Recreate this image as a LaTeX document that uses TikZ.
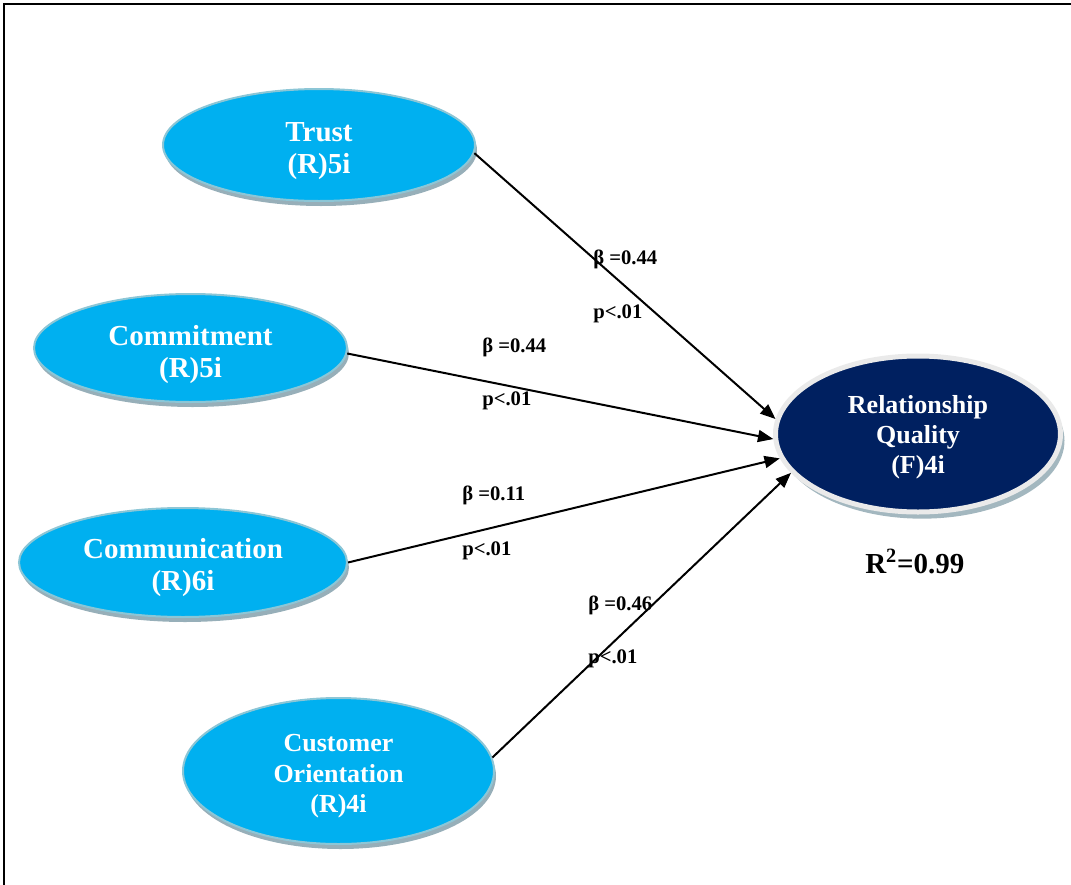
\documentclass[tikz,border=0pt]{standalone}
\usepackage{fontspec}
\setmainfont{Liberation Serif}
\usetikzlibrary{shapes.geometric,shadows,arrows.meta}

\definecolor{latentfill}{HTML}{00B0F0}
\definecolor{latentedge}{HTML}{8CC6D6}
\definecolor{latentshadow}{HTML}{97AFB9}
\definecolor{outcomefill}{HTML}{002060}
\definecolor{outcomering}{HTML}{EAEAEA}
\definecolor{outcomeshadow}{HTML}{A3B7BF}

% centred block of lines, drawn a little lower than its box
\newcommand{\sunkenlines}[2]{\raisebox{-#1}[\height][\depth]{\begin{tabular}{@{}c@{}}#2\end{tabular}}}

\begin{document}
\begin{tikzpicture}[x=0.75pt,y=-0.75pt,
  latent/.style={ellipse, fill=latentfill, draw=latentedge, line width=1.5pt,
    inner sep=0pt, text=white, align=center,
    font=\bfseries\fontsize{21.75}{24}\selectfont,
    drop shadow={shadow xshift=1.5pt, shadow yshift=-3.75pt, fill=latentshadow, opacity=1}},
  outcome/.style={ellipse, fill=outcomefill, draw=outcomering, line width=3.75pt,
    inner sep=0pt, text=white, align=center,
    font=\bfseries\fontsize{19.5}{22.5}\selectfont,
    drop shadow={shadow xshift=3pt, shadow yshift=-5pt, fill=outcomeshadow, opacity=1}},
  path/.style={line width=1.5pt, -{Triangle[length=11.5pt,width=9pt]}},
  coef/.style={font=\bfseries\fontsize{15.5}{18}\selectfont, inner sep=0pt, anchor=base west},
]
\useasboundingbox (0,0) rectangle (1071,885);

% outer frame (top and left edges)
\draw[line width=1.5pt] (4,885) -- (4,4) -- (1071,4);

% constructs
\node[latent, minimum width=234pt, minimum height=84pt] (trust) at (319,145)
  {\sunkenlines{4.5pt}{Trust\\(R)5i}};
\node[latent, minimum width=234.75pt, minimum height=81pt] (commit) at (190.5,348)
  {\sunkenlines{5pt}{Commitment\\(R)5i}};
\node[latent, minimum width=246pt, minimum height=81.75pt] (comm) at (183,562.5)
  {\sunkenlines{4.5pt}{Communication\\(R)6i}};
\node[latent, minimum width=233.25pt, minimum height=109.5pt,
  font=\bfseries\fontsize{19.5}{23}\selectfont] (custor) at (338.5,771)
  {\sunkenlines{3.75pt}{Customer\\Orientation\\(R)4i}};
\node[outcome, minimum width=213.75pt, minimum height=117pt] (rq) at (918,434)
  {\sunkenlines{2.25pt}{Relationship\\Quality\\(F)4i}};

% structural paths
\draw[path] (trust.-3.7) -- (rq.174.5);
\draw[path] (commit.-2.5) -- (rq.182.5);
\draw[path] (comm.0) -- (rq.190.8);
\draw[path] (custor.5.8) -- (rq.197.6);

% path coefficients
\node[coef] (b1) at (593,264) {β =0.44};
\node[coef] (p1) at (593,318) {p<.01};
\node[coef] (b2) at (482,352) {β =0.44};
\node[coef] (p2) at (482,405) {p<.01};
\node[coef] (b3) at (462,500) {β =0.11};
\node[coef] (p3) at (462,555) {p<.01};
\node[coef] (b4) at (588,610) {β =0.46};
\node[coef] (p4) at (588,663) {p<.01};

% explained variance
\node[coef, font=\bfseries\fontsize{21.75}{24}\selectfont] (r2) at (865,573)
  {R\textsuperscript{2}=0.99};
\end{tikzpicture}
\end{document}
